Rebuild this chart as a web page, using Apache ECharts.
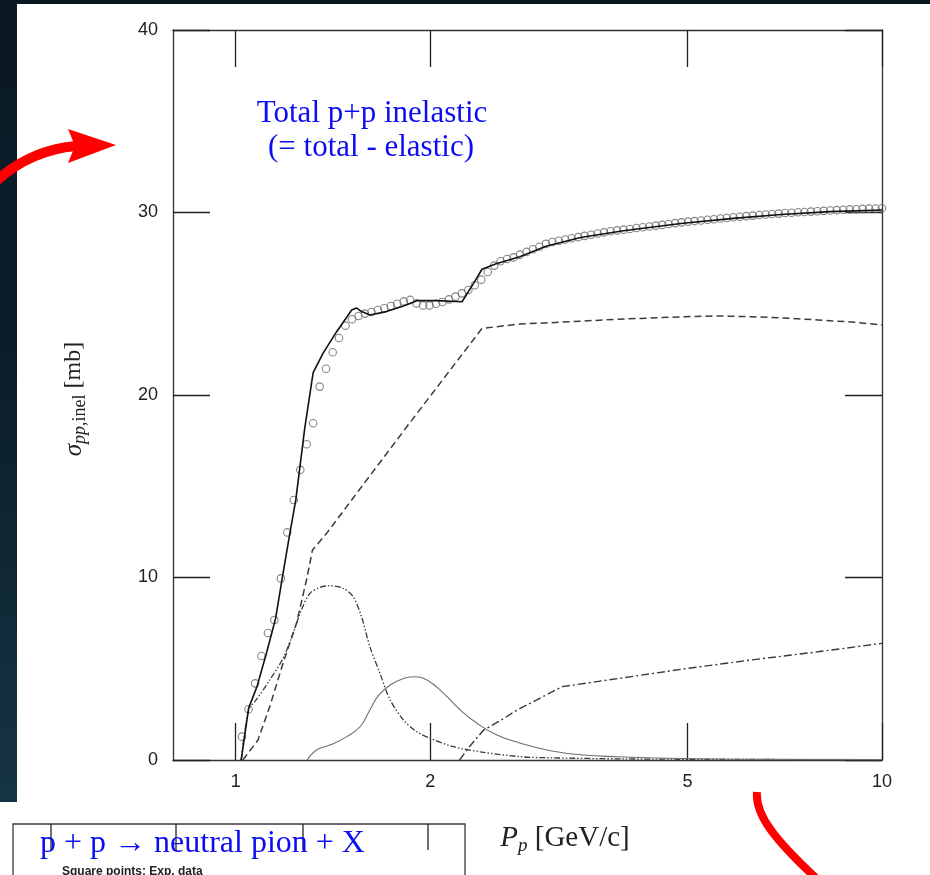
<!DOCTYPE html>
<html>
<head>
<meta charset="utf-8">
<script src="https://cdn.jsdelivr.net/npm/echarts@6.0.0/dist/echarts.min.js"></script>
<style>
  html, body { margin: 0; padding: 0; background: #ffffff; }
  #chart { width: 930px; height: 875px; }
</style>
</head>
<body>
<div id="chart"></div>
<script>
// Axis ticks
const xTickValues = [1, 2, 5, 10];
const yTickStep = 10;

// Measured inelastic p+p cross section (open circles), momentum in GeV/c
const expMomentum = [
  1.023, 1.047, 1.072, 1.096, 1.122, 1.148, 1.175, 1.202, 1.230, 1.259,
  1.288, 1.318, 1.349, 1.380, 1.413, 1.445, 1.479, 1.514, 1.549, 1.585,
  1.622, 1.660, 1.698, 1.738, 1.778, 1.820, 1.862, 1.905, 1.950, 1.995,
  2.042, 2.089, 2.138, 2.188, 2.239, 2.291, 2.344, 2.399, 2.455, 2.512,
  2.570, 2.630, 2.692, 2.754, 2.818, 2.884, 2.951, 3.020, 3.090, 3.162,
  3.236, 3.311, 3.388, 3.467, 3.548, 3.631, 3.715, 3.802, 3.890, 3.981,
  4.074, 4.169, 4.266, 4.365, 4.467, 4.571, 4.677, 4.786, 4.898, 5.012,
  5.129, 5.248, 5.370, 5.495, 5.623, 5.754, 5.888, 6.026, 6.166, 6.310,
  6.457, 6.607, 6.761, 6.918, 7.079, 7.244, 7.413, 7.586, 7.762, 7.943,
  8.128, 8.318, 8.511, 8.710, 8.913, 9.120, 9.333, 9.550, 9.772, 10.000
];
const expSigma = [
  1.28, 2.78, 4.20, 5.70, 6.96, 7.67, 9.95, 12.47, 14.25, 15.90,
  17.30, 18.45, 20.46, 21.44, 22.34, 23.12, 23.80, 24.15, 24.33, 24.46,
  24.55, 24.66, 24.75, 24.88, 25.00, 25.13, 25.21, 25.02, 24.91, 24.91,
  25.00, 25.10, 25.24, 25.39, 25.57, 25.75, 26.01, 26.32, 26.74, 27.09,
  27.33, 27.45, 27.54, 27.69, 27.84, 27.99, 28.12, 28.28, 28.38, 28.45,
  28.52, 28.59, 28.65, 28.72, 28.78, 28.85, 28.91, 28.97, 29.02, 29.06,
  29.10, 29.15, 29.19, 29.23, 29.28, 29.32, 29.37, 29.42, 29.46, 29.50,
  29.53, 29.56, 29.60, 29.63, 29.67, 29.70, 29.74, 29.77, 29.80, 29.83,
  29.86, 29.89, 29.92, 29.94, 29.97, 29.99, 30.01, 30.03, 30.05, 30.07,
  30.09, 30.11, 30.13, 30.15, 30.17, 30.18, 30.20, 30.21, 30.22, 30.23
];

// Model: total inelastic (solid)
const modelTotal = [
  [1.020, 0], [1.0475, 2.85], [1.079, 4.02], [1.116, 5.85], [1.153, 7.76],
  [1.184, 10.23], [1.213, 12.42], [1.239, 14.25], [1.279, 18.17], [1.318, 21.22],
  [1.365, 22.28], [1.433, 23.47], [1.512, 24.66], [1.538, 24.77], [1.566, 24.57],
  [1.613, 24.38], [1.711, 24.57], [1.818, 24.88], [1.907, 25.17], [2.047, 25.17],
  [2.240, 25.11], [2.334, 26.12], [2.405, 26.89], [2.523, 27.18], [2.752, 27.58],
  [3.020, 28.15], [3.419, 28.63], [3.981, 29.00], [4.886, 29.40], [5.888, 29.68],
  [6.985, 29.89], [8.318, 30.05], [10.0, 30.14]
];

// Model component (dashed)
const modelDashed = [
  [1.026, 0], [1.083, 1.10], [1.129, 2.92], [1.184, 5.30], [1.242, 7.49],
  [1.287, 9.86], [1.315, 11.51], [1.383, 12.42], [1.512, 14.25], [1.840, 18.26],
  [2.405, 23.65], [2.752, 23.89], [3.070, 23.96], [3.896, 24.15], [4.943, 24.29],
  [5.570, 24.33], [6.274, 24.29], [7.068, 24.22], [7.962, 24.11], [8.970, 24.00],
  [10.0, 23.84]
];

// Model component (dash-dot-dot), peaked near 1.4 GeV/c
const modelDashDotDot = [
  [1.020, 0], [1.0475, 2.74], [1.076, 3.29], [1.129, 4.38], [1.184, 5.57],
  [1.227, 6.94], [1.264, 8.22], [1.303, 9.13], [1.350, 9.46], [1.399, 9.55],
  [1.467, 9.41], [1.520, 8.95], [1.566, 7.85], [1.613, 6.21], [1.672, 4.75],
  [1.734, 3.29], [1.818, 2.19], [1.907, 1.55], [2.000, 1.19], [2.172, 0.73],
  [2.391, 0.45], [2.757, 0.18], [3.070, 0.12], [4.000, 0.06], [6.000, 0.03],
  [10.0, 0.02]
];

// Model component (thin grey), peaked near 1.9 GeV/c
const modelBump = [
  [1.290, 0], [1.334, 0.55], [1.399, 0.82], [1.486, 1.28], [1.560, 1.85],
  [1.613, 2.74], [1.665, 3.55], [1.734, 4.11], [1.818, 4.47], [1.884, 4.56],
  [1.977, 4.38], [2.098, 3.65], [2.226, 2.74], [2.362, 2.01], [2.536, 1.37],
  [2.743, 0.95], [3.070, 0.51], [3.459, 0.27], [3.896, 0.18], [4.390, 0.12],
  [4.943, 0.08], [6.000, 0.04], [10.0, 0.02]
];

// Model component (dash-dot), rising above 2.2 GeV/c
const modelDashDot = [
  [2.220, 0], [2.300, 0.73], [2.419, 1.64], [2.600, 2.28], [2.726, 2.74],
  [3.202, 4.02], [5.004, 5.02], [6.274, 5.48], [7.962, 5.93], [10.0, 6.39]
];

const expPoints = expMomentum.map((p, i) => [p, expSigma[i]]);

const frameColor = '#333';
const tickFont = { fontFamily: 'Liberation Sans', fontSize: 18, color: '#222' };
const serif = 'Liberation Serif';
const blue = '#0c0cf2';

function xAxisDef(position, showLabels) {
  return {
    type: 'log',
    logBase: 10,
    position: position,
    min: 0.8,
    max: 10,
    axisLine: { show: true, onZero: false, lineStyle: { color: frameColor, width: 1.3 } },
    axisTick: {
      show: true, inside: true, length: 37,
      customValues: xTickValues,
      lineStyle: { color: '#222', width: 1.3 }
    },
    minorTick: { show: false },
    axisLabel: {
      show: showLabels,
      customValues: xTickValues,
      margin: 13,
      formatter: (v) => String(Math.round(v)),
      ...tickFont
    },
    splitLine: { show: false }
  };
}

function yAxisDef(position, showLabels) {
  return {
    type: 'value',
    position: position,
    min: 0,
    max: 40,
    interval: yTickStep,
    axisLine: { show: true, onZero: false, lineStyle: { color: frameColor, width: 1.3 } },
    axisTick: { show: true, inside: true, length: 37, lineStyle: { color: '#222', width: 1.3 } },
    axisLabel: { show: showLabels, margin: 15, ...tickFont },
    splitLine: { show: false }
  };
}

const lineBase = { type: 'line', showSymbol: false, symbol: 'none', xAxisIndex: 0, yAxisIndex: 0, z: 3 };

const chart = echarts.init(document.getElementById('chart'), null, { renderer: 'canvas' });
chart.setOption({
  animation: false,
  backgroundColor: '#ffffff',
  grid: { left: 173, right: 48, top: 30, bottom: 115, containLabel: false },
  xAxis: [xAxisDef('bottom', true), xAxisDef('top', false)],
  yAxis: [yAxisDef('left', true), yAxisDef('right', false)],
  series: [
    { ...lineBase, name: 'dashed', data: modelDashed,
      lineStyle: { color: '#3a3a3a', width: 1.5, type: [7, 4] } },
    { ...lineBase, name: 'dashdotdot', data: modelDashDotDot, smooth: 0.3,
      lineStyle: { color: '#3a3a3a', width: 1.3, type: [6, 2, 1.5, 2, 1.5, 2] } },
    { ...lineBase, name: 'bump', data: modelBump, smooth: 0.45,
      lineStyle: { color: '#6e6e6e', width: 1.1 } },
    { ...lineBase, name: 'dashdot', data: modelDashDot,
      lineStyle: { color: '#3a3a3a', width: 1.4, type: [8, 3, 2, 3] } },
    { type: 'scatter', name: 'exp', data: expPoints, symbol: 'circle', symbolSize: 7.5, z: 4,
      itemStyle: { color: 'rgba(255,255,255,0)', borderColor: '#666666', borderWidth: 1.1 } },
    { ...lineBase, name: 'total', data: modelTotal, z: 5,
      lineStyle: { color: '#111', width: 1.6 } }
  ],
  graphic: [
    // dark backdrop strips along the edges
    { type: 'rect', z: 10, shape: { x: 0, y: 0, width: 17, height: 802 },
      style: { fill: new echarts.graphic.LinearGradient(0, 0, 0, 1, [
        { offset: 0, color: '#0a1924' }, { offset: 0.45, color: '#0b1d2a' },
        { offset: 0.75, color: '#112a38' }, { offset: 1, color: '#153444' }]) } },
    { type: 'rect', z: 10, shape: { x: 0, y: 0, width: 930, height: 4 }, style: { fill: '#0a1822' } },
    // red pointer arrow on the left
    { type: 'bezierCurve', z: 10,
      shape: { x1: -5, y1: 182, cpx1: 30, cpy1: 150, x2: 76, y2: 146 },
      style: { stroke: '#ff0000', lineWidth: 10, fill: null } },
    { type: 'polygon', z: 10,
      shape: { points: [[68, 129], [116, 145], [68, 163], [75, 146]] },
      style: { fill: '#ff0000' } },
    // red stroke at the lower right
    { type: 'bezierCurve', z: 10,
      shape: { x1: 757, y1: 792, cpx1: 755, cpy1: 815, cpx2: 775, cpy2: 840, x2: 818, y2: 880 },
      style: { stroke: '#ff0000', lineWidth: 8, fill: null } },
    // second panel peeking in at the bottom left
    { type: 'rect', z: 10, shape: { x: 13, y: 824, width: 452, height: 90 },
      style: { fill: '#ffffff', stroke: '#3a3a3a', lineWidth: 1.3 } },
    { type: 'line', z: 11, shape: { x1: 51, y1: 824, x2: 51, y2: 850 }, style: { stroke: '#222', lineWidth: 1.3 } },
    { type: 'line', z: 11, shape: { x1: 176, y1: 824, x2: 176, y2: 850 }, style: { stroke: '#222', lineWidth: 1.3 } },
    { type: 'line', z: 11, shape: { x1: 303, y1: 824, x2: 303, y2: 850 }, style: { stroke: '#222', lineWidth: 1.3 } },
    { type: 'line', z: 11, shape: { x1: 428, y1: 824, x2: 428, y2: 850 }, style: { stroke: '#222', lineWidth: 1.3 } },
    { type: 'text', z: 12, x: 40, y: 844,
      style: { text: 'p + p \u2192 neutral pion + X', font: '32px "Liberation Serif"', fill: blue,
               textAlign: 'left', textVerticalAlign: 'middle' } },
    { type: 'text', z: 12, x: 62, y: 866,
      style: { text: 'Square points: Exp. data', font: 'bold 12px "Liberation Sans"', fill: '#222',
               textAlign: 'left', textVerticalAlign: 'top' } },
    // annotation inside the plot
    { type: 'text', z: 12, x: 372, y: 114,
      style: { text: 'Total p+p inelastic', font: '31px "Liberation Serif"', fill: blue,
               textAlign: 'center', textVerticalAlign: 'middle' } },
    { type: 'text', z: 12, x: 371, y: 148,
      style: { text: '(= total - elastic)', font: '31px "Liberation Serif"', fill: blue,
               textAlign: 'center', textVerticalAlign: 'middle' } },
    // y-axis title
    { type: 'text', z: 12, x: 74, y: 399, rotation: Math.PI / 2,
      style: {
        text: '{s|\u03c3}{si|pp}{sr|,inel}{n| [mb]}',
        textAlign: 'center', textVerticalAlign: 'middle', fill: '#222',
        rich: {
          s: { fontFamily: serif, fontStyle: 'italic', fontSize: 25, lineHeight: 30, verticalAlign: 'middle', fill: '#222' },
          si: { fontFamily: serif, fontStyle: 'italic', fontSize: 18, lineHeight: 18, verticalAlign: 'bottom', fill: '#222' },
          sr: { fontFamily: serif, fontSize: 18, lineHeight: 18, verticalAlign: 'bottom', fill: '#222' },
          n: { fontFamily: serif, fontSize: 24, lineHeight: 30, verticalAlign: 'middle', fill: '#222' }
        }
      } },
    // x-axis title
    { type: 'text', z: 12, x: 565, y: 838,
      style: {
        text: '{s|P}{si|p}{n| [GeV/c]}',
        textAlign: 'center', textVerticalAlign: 'middle', fill: '#222',
        rich: {
          s: { fontFamily: serif, fontStyle: 'italic', fontSize: 29, lineHeight: 34, verticalAlign: 'middle', fill: '#222' },
          si: { fontFamily: serif, fontStyle: 'italic', fontSize: 19, lineHeight: 19, verticalAlign: 'bottom', fill: '#222' },
          n: { fontFamily: serif, fontSize: 29, lineHeight: 34, verticalAlign: 'middle', fill: '#222' }
        }
      } }
  ]
});
</script>
</body>
</html>
